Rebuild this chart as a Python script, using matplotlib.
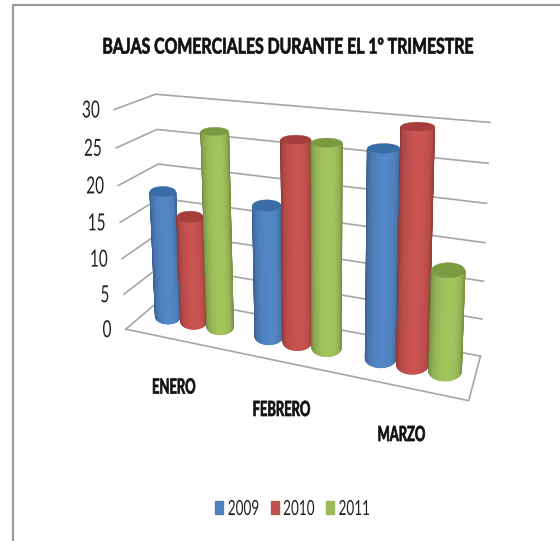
import numpy as np
import matplotlib
matplotlib.use("Agg")
import matplotlib.pyplot as plt
import matplotlib.patches as mpatches
from matplotlib.colors import LinearSegmentedColormap, to_rgb
from matplotlib.patheffects import AbstractPathEffect
from matplotlib.transforms import Affine2D

plt.rcParams['font.family'] = ['Lato', 'DejaVu Sans']

meses = ["ENERO", "FEBRERO", "MARZO"]
anios = ["2009", "2010", "2011"]
valores_2009 = [18, 18, 27]
valores_2010 = [15, 27, 30]
valores_2011 = [27, 27, 13]
ticks = [0, 5, 10, 15, 20, 25, 30]
colores = ["#4F81BD", "#C0504D", "#9BBB59"]
colores_tapa = ["#3A6CA6", "#A63F3C", "#7C9A40"]

# puntos de la caja (mes, fondo, valor) -> pixel, para ajustar la perspectiva
caja = [
    (0, 0, 0, 125, 327), (0, 0, 15, 120, 223), (0, 0, 30, 115, 110),
    (3, 0, 0, 469, 402),
    (0, 1, 0, 165, 299), (0, 1, 20, 158, 163), (0, 1, 30, 155, 94),
    (3, 1, 0, 480, 355), (3, 1, 15, 485, 242), (3, 1, 30, 490, 123),
]


class Estrecho(AbstractPathEffect):
    # el original tiene el texto comprimido en horizontal
    def __init__(self, sx, ancla='center', grosor=0):
        super().__init__()
        self.sx = sx
        self.ancla = ancla
        self.grosor = grosor

    def draw_path(self, renderer, gc, tpath, affine, rgbFace=None):
        ext = tpath.get_extents(affine)
        x0 = {'center': (ext.x0 + ext.x1) / 2, 'right': ext.x1, 'left': ext.x0}[self.ancla]
        t = affine + Affine2D().translate(-x0, 0).scale(self.sx, 1).translate(x0, 0)
        gc0 = renderer.new_gc()
        gc0.copy_properties(gc)
        gc0.set_linewidth(self.grosor)
        if self.grosor:
            gc0.set_foreground(rgbFace)
        renderer.draw_path(gc0, tpath, t, rgbFace)
        gc0.restore()


def ajustar(puntos):
    filas, lados = [], []
    for u, d, v, x, y in puntos:
        filas.append([u, d, v, 1, 0, 0, 0, 0, -x * u, -x * d, -x * v])
        filas.append([0, 0, 0, 0, u, d, v, 1, -y * u, -y * d, -y * v])
        lados += [x, y]
    m = np.linalg.lstsq(np.array(filas, float), np.array(lados, float), rcond=None)[0]
    return np.append(m, 1).reshape(3, 4)


M = ajustar(caja)


def proy(u, d, v):
    p = M @ np.array([u, d, v, np.ones_like(u)], float)
    return p[0] / p[2], p[1] / p[2]


def punto(u, d, v):
    x, y = proy(np.array([u]), np.array([d]), np.array([float(v)]))
    return x[0], y[0]


def radios(u0, v, r_u=0.13, r_d=0.22):
    x1, _ = punto(u0 - r_u, 0.5, v)
    x2, _ = punto(u0 + r_u, 0.5, v)
    _, y1 = punto(u0, 0.5 - r_d, v)
    _, y2 = punto(u0, 0.5 + r_d, v)
    return abs(x2 - x1) / 2, abs(y1 - y2) / 2


def cilindro(ax, u0, valor, color, tapa, z):
    xb, yb = punto(u0, 0.5, 0)
    xt, yt = punto(u0, 0.5, valor)
    ab, hb = radios(u0, 0)
    at, ht = radios(u0, valor)
    base = np.array(to_rgb(color))
    cmap = LinearSegmentedColormap.from_list("c", [base * 0.72, np.clip(base * 1.05, 0, 1)])
    ang = np.linspace(np.pi, 0, 41)
    luz = np.maximum(np.sin(ang + 0.12), 0) ** 0.8
    X = np.vstack([xb + ab * np.cos(ang), xt + at * np.cos(ang)])
    Y = np.vstack([yb + hb * np.sin(ang), yt + ht * np.sin(ang)])
    ax.pcolormesh(X, Y, np.vstack([luz, luz]), cmap=cmap, vmin=0, vmax=1, shading='gouraud', zorder=z)
    t = np.linspace(0, 2 * np.pi, 60)
    ax.fill(xt + at * np.cos(t), yt + ht * np.sin(t), color=tapa, lw=0.3, zorder=z + 0.5)


fig = plt.figure(figsize=(5.6, 5.41), dpi=100)
ax = fig.add_axes([0, 0, 1, 1])
ax.set_xlim(0, 560)
ax.set_ylim(541, 0)
ax.axis('off')

# marco de la imagen
ax.plot([13, 13, 560], [541, 5, 5], color='#9a9a9a', lw=1.6, zorder=1)

gris = '#a6a6a6'
for t in ticks:
    x, y = proy(np.array([0.0, 0.0, 3.0]), np.array([0.0, 1.0, 1.0]), np.array([t, t, t], float))
    ax.plot(x, y, color=gris, lw=1.2, zorder=2)
    ax.text(x[0] - 14, y[0] + 1.5, str(t), ha='right', va='center', fontsize=17, color='#222222',
            path_effects=[Estrecho(0.65, 'right')])

x, y = proy(np.array([0.0, 3.0, 3.0]), np.array([0.0, 0.0, 1.0]), np.zeros(3))
ax.plot(x, y, color=gris, lw=1.2, zorder=2)

series = [valores_2009, valores_2010, valores_2011]
for i, mes in enumerate(meses):
    for s, vals in enumerate(series):
        cilindro(ax, i + 0.5 + (s - 1) * 0.265, vals[i], colores[s], colores_tapa[s], 3 + s)
    xm, ym = punto(i + 0.5, 0, 0)
    ax.text(xm - 2, ym + 48, mes, ha='center', va='center', fontsize=15,
            fontweight='bold', color='#111111', path_effects=[Estrecho(0.62, grosor=0.5)])

ax.text(288, 47, "BAJAS COMERCIALES DURANTE EL 1º TRIMESTRE", ha='center', va='center',
        fontsize=15.5, fontweight='bold', color='#111111', path_effects=[Estrecho(0.735, grosor=0.5)])

leyenda = [mpatches.Patch(color=c, label=a) for c, a in zip(colores, anios)]
leg = ax.legend(handles=leyenda, loc='center', bbox_to_anchor=(301 / 560, 1 - 509 / 541), ncol=3,
                frameon=False, fontsize=15, handlelength=0.38, handleheight=0.6,
                handletextpad=0.2, columnspacing=-0.25, labelcolor='#222222')
for txt in leg.get_texts():
    txt.set_path_effects([Estrecho(0.65, 'left')])

plt.savefig("out.png", dpi=100)
